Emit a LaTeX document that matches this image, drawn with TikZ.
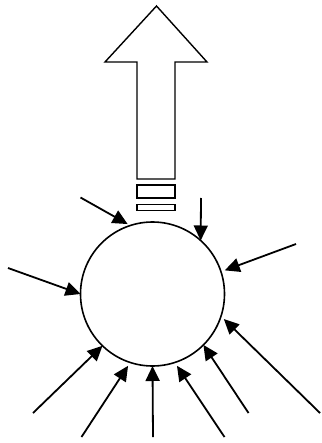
\documentclass[tikz,border=0pt]{standalone}
\usetikzlibrary{arrows.meta}
\begin{document}
\begin{tikzpicture}[
  x=1pt, y=-1pt,
  cell/.style={draw, circle, line width=1.6pt, minimum size=144pt, inner sep=0pt, outer sep=0pt},
  bar/.style={draw, line width=1.4pt, minimum width=38pt, inner sep=0pt, outer sep=0pt},
  push/.style={line width=1.8pt, -{Triangle[length=15pt,width=14pt]}}
]
\useasboundingbox (0,0) rectangle (321,443);
\node[cell] (cell) at (152.5,294) {};
\node[bar, minimum height=13pt] (bar1) at (156,191.5) {};
\node[bar, minimum height=6.5pt] (bar2) at (156,207.5) {};

% outgoing arrow
\draw[line width=1.4pt, line join=miter]
  (156.5,6) -- (207,62) -- (175,62) -- (175,179) -- (137,179) -- (137,62) -- (105,62) -- cycle;

% incoming arrows
\coordinate (in1) at (80.5,197.5);
\coordinate (in2) at (201,198);
\coordinate (in3) at (296,244);
\coordinate (in4) at (8,268);
\coordinate (in5) at (33,413);
\coordinate (in6) at (81.5,437);
\coordinate (in7) at (153,437);
\coordinate (in8) at (224.5,437);
\coordinate (in9) at (248.5,413);
\coordinate (in10) at (320,413);

\draw[push, shorten >=3pt] (in1) -- (cell.108);
\draw[push] (in2) -- (cell.48);
\draw[push, shorten >=4pt] (in3) -- (cell.18);
\draw[push] (in4) -- (cell.180);
\draw[push] (in5) -- (cell.226);
\draw[push, shorten >=4pt] (in6) -- (cell.252);
\draw[push] (in7) -- (cell.270);
\draw[push, shorten >=4pt] (in8) -- (cell.288);
\draw[push] (in9) -- (cell.315);
\draw[push, shorten >=4pt] (in10) -- (cell.342);
\end{tikzpicture}
\end{document}
